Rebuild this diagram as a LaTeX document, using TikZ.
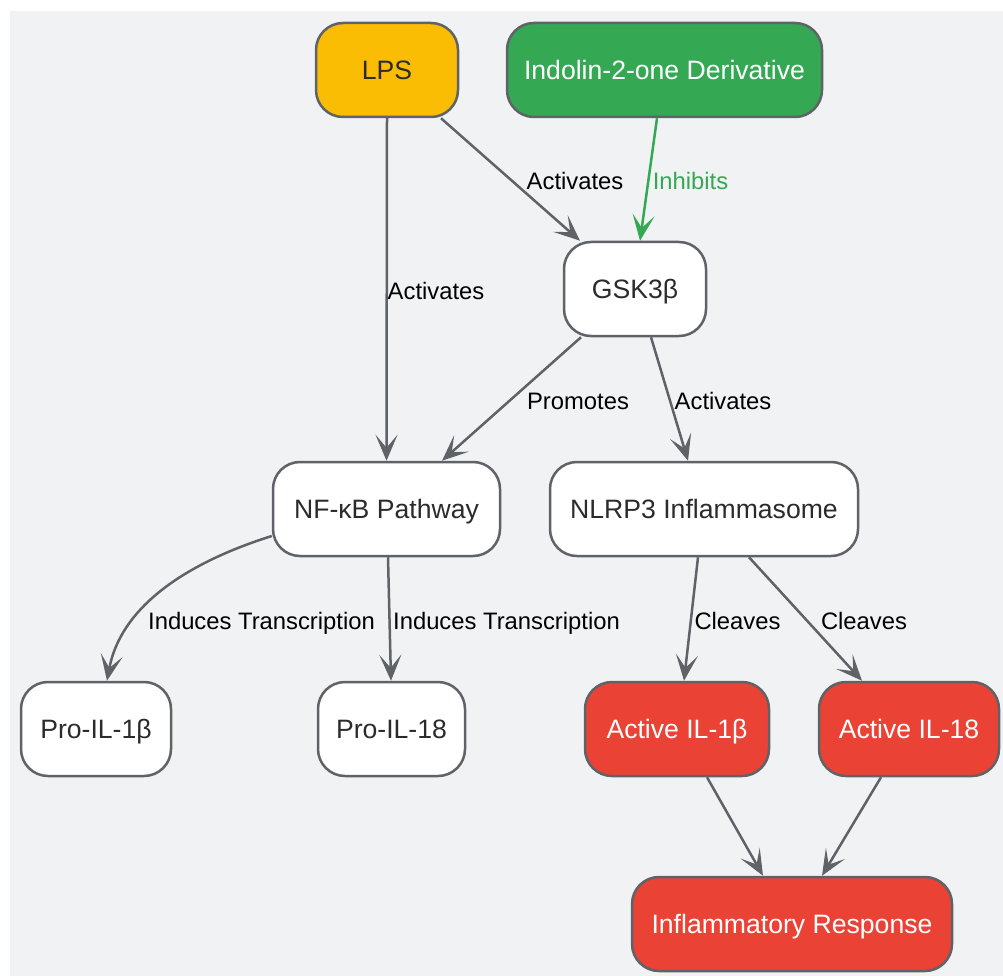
\documentclass[tikz,border=0pt]{standalone}
\usepackage{fontspec}
\setmainfont{Liberation Sans}
\usetikzlibrary{arrows.meta,calc}
\definecolor{bgc}{HTML}{F1F2F4}
\definecolor{bord}{HTML}{5F6368}
\definecolor{yel}{HTML}{FBBC04}
\definecolor{grn}{HTML}{34A853}
\definecolor{rd}{HTML}{EA4335}
\definecolor{txt}{HTML}{2B2B2B}
\begin{document}
\begin{tikzpicture}[x=1pt,y=-1pt,
  box/.style={draw=bord, line width=2.5pt, rounded corners=27pt, minimum height=94pt,
    inner sep=0pt, text=txt, font=\fontsize{26.6}{30}\selectfont, text height=19pt, text depth=0pt},
  lbl/.style={inner sep=0pt, text=black, font=\fontsize{23.8}{28}\selectfont, text height=17pt, text depth=0pt},
  edge/.style={draw=bord, line width=2.5pt, -{Stealth[length=26pt,width=22pt,inset=13pt]}}]
\useasboundingbox (0,0) rectangle (1003,976);
\fill[bgc] (10,11) rectangle (1003,976);

\node[box, fill=yel, minimum width=142] (lps) at (387,70) {LPS};
\node[box, fill=grn, text=white, minimum width=315] (ind) at (664.5,70) {Indolin-2-one Derivative};
\node[box, fill=white, minimum width=142] (gsk) at (635,289) {GSK3β};
\node[box, fill=white, minimum width=227] (nfkb) at (386.5,509) {NF-κB Pathway};
\node[box, fill=white, minimum width=308] (nlrp) at (704,509) {NLRP3 Inflammasome};
\node[box, fill=white, minimum width=150] (pro1) at (96,729) {Pro-IL-1β};
\node[box, fill=white, minimum width=147] (pro18) at (391.5,729) {Pro-IL-18};
\node[box, fill=rd, text=white, minimum width=184] (act1) at (677,729) {Active IL-1β};
\node[box, fill=rd, text=white, minimum width=180] (act18) at (909,729) {Active IL-18};
\node[box, fill=rd, text=white, minimum width=320] (inf) at (792,924) {Inflammatory Response};

\draw[edge] (lps.south) -- (nfkb.north);
\draw[edge] ($(lps.south)+(54,0)$) -- ($(gsk.north)+(-55,0)$);
\draw[edge, draw=grn, -{Stealth[length=26pt,width=22pt,inset=13pt,fill=grn]}] ($(ind.south)+(-7.5,0)$) -- ($(gsk.north)+(5,0)$);
\draw[edge] ($(gsk.south)+(-54,0)$) -- ($(nfkb.north)+(55.5,0)$);
\draw[edge] ($(gsk.south)+(16,0)$) -- ($(nlrp.north)+(-16,0)$);
\draw[edge] ($(nfkb.west)+(0,27)$) .. controls (180,565) and (120,610) .. ($(pro1.north)+(11,0)$);
\draw[edge] ($(nfkb.south)+(1.5,0)$) -- ($(pro18.north)+(-0.5,0)$);
\draw[edge] ($(nlrp.south)+(-6,0)$) -- ($(act1.north)+(7,0)$);
\draw[edge] ($(nlrp.south)+(45,0)$) -- ($(act18.north)+(-47,0)$);
\draw[edge] ($(act1.south)+(30,0)$) -- ($(inf.north)+(-29,0)$);
\draw[edge] ($(act18.south)+(-28,0)$) -- ($(inf.north)+(30,0)$);

\node[lbl] (l1) at (436,291) {Activates};
\node[lbl] (l2) at (575,181) {Activates};
\node[lbl, text=grn] (l3) at (690.5,181) {Inhibits};
\node[lbl] (l4) at (578,401) {Promotes};
\node[lbl] (l5) at (723,401) {Activates};
\node[lbl] (l6) at (261.5,621) {Induces Transcription};
\node[lbl] (l7) at (506.5,621) {Induces Transcription};
\node[lbl] (l8) at (737.5,621) {Cleaves};
\node[lbl] (l9) at (864,621) {Cleaves};
\end{tikzpicture}
\end{document}
